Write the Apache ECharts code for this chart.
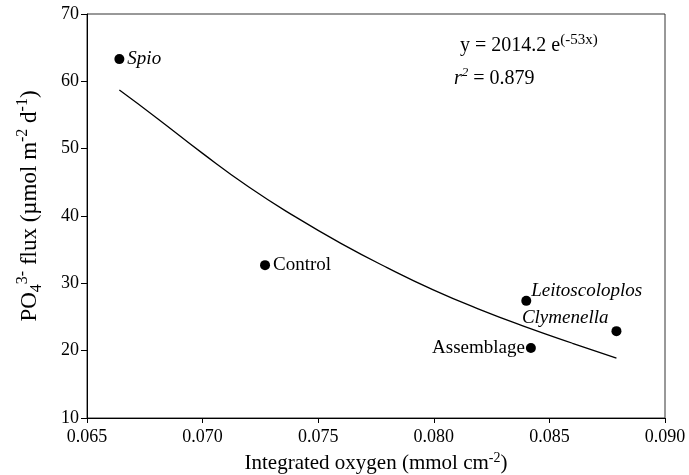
<!DOCTYPE html>
<html lang="en">
<head>
    <meta charset="UTF-8">
    <title>PO4 flux vs integrated oxygen</title>
    <script src="https://cdn.jsdelivr.net/npm/echarts@6/dist/echarts.min.js"></script>
    <style>
        html, body {margin: 0; padding: 0; background: #fff;}
        #main {width: 689px; height: 475px;}
    </style>
</head>
<body>
<div id="main"></div>
<script>
    // treatments (points)
    var names = ['Spio', 'Control', 'Leitoscoloplos', 'Clymenella', 'Assemblage'];
    var oxygen = [0.0664, 0.0727, 0.0840, 0.0879, 0.0842];
    var flux = [63.3, 32.7, 27.4, 22.9, 20.4];
    var italicNames = ['Spio', 'Leitoscoloplos', 'Clymenella'];

    // fitted curve
    var fitX = [0.0664, 0.068, 0.070, 0.072, 0.074, 0.076, 0.078, 0.080, 0.082, 0.084, 0.086, 0.0879];
    var fitY = [58.7, 54.6, 49.3, 44.3, 39.9, 35.9, 32.3, 29.0, 26.1, 23.5, 21.1, 18.9];

    var xTicks = [0.065, 0.090, 0.005];
    var yTicks = [10, 70, 10];

    var serif = '"Liberation Serif", "DejaVu Serif", serif';

    // label placement for each point
    var labelPlace = {
        'Spio': {position: 'right', offset: [0, 0]},
        'Control': {position: 'right', offset: [0, 0]},
        'Leitoscoloplos': {position: 'right', offset: [-3, -10]},
        'Clymenella': {position: 'left', offset: [0, -13]},
        'Assemblage': {position: 'left', offset: [2, 0]}
    };

    var pts = names.map(function (n, i) {
        var pl = labelPlace[n];
        return {
            name: n,
            value: [oxygen[i], flux[i]],
            label: {
                show: true,
                position: pl.position,
                offset: pl.offset,
                distance: 3,
                formatter: n,
                color: '#000',
                fontStyle: italicNames.indexOf(n) >= 0 ? 'italic' : 'normal'
            }
        };
    });

    var fit = fitX.map(function (x, i) { return [x, fitY[i]]; });

    var myChart = echarts.init(document.getElementById('main'));
    var option = {
        backgroundColor: '#fff',
        animation: false,
        grid: {
            left: 87, right: 24, top: 14, bottom: 57,
            outerBoundsMode: 'none',
            containLabel: false,
            show: true, borderColor: '#333', borderWidth: 1
        },
        xAxis: {
            type: 'value',
            min: xTicks[0], max: xTicks[1], interval: xTicks[2],
            splitLine: {show: false},
            axisLine: {lineStyle: {color: '#000'}},
            axisTick: {length: 5, lineStyle: {color: '#000'}},
            axisLabel: {
                color: '#000', fontFamily: serif, fontSize: 18, margin: 10,
                formatter: function (v) { return v.toFixed(3); }
            },
            name: 'Integrated oxygen (mmol cm{sup|-2})',
            nameLocation: 'middle',
            nameGap: 30,
            nameTextStyle: {
                color: '#000', fontFamily: serif, fontSize: 21, lineHeight: 26,
                rich: {
                    sup: {fontFamily: serif, fontSize: 14, verticalAlign: 'top', lineHeight: 26, color: '#000'}
                }
            }
        },
        yAxis: {
            type: 'value',
            min: yTicks[0], max: yTicks[1], interval: yTicks[2],
            splitLine: {show: false},
            axisLine: {lineStyle: {color: '#000'}},
            axisTick: {length: 6, lineStyle: {color: '#000'}},
            axisLabel: {color: '#000', fontFamily: serif, fontSize: 18, margin: 8},
            name: 'PO{sub|4}{sup|3-} flux (\u00b5mol m{sup|-2} d{sup|-1})',
            nameLocation: 'middle',
            nameGap: 42,
            nameTextStyle: {
                color: '#000', fontFamily: serif, fontSize: 23, lineHeight: 30,
                padding: [0, 0, 0, 20],
                rich: {
                    sup: {fontFamily: serif, fontSize: 16, verticalAlign: 'top', lineHeight: 30, color: '#000'},
                    sub: {fontFamily: serif, fontSize: 16, verticalAlign: 'bottom', lineHeight: 30, color: '#000'}
                }
            }
        },
        series: [
            {
                type: 'line',
                data: fit,
                smooth: true,
                showSymbol: false,
                symbol: 'none',
                lineStyle: {color: '#000', width: 1.3},
                z: 2
            },
            {
                type: 'scatter',
                data: pts,
                symbol: 'circle',
                symbolSize: 10,
                itemStyle: {color: '#000', opacity: 1},
                label: {color: '#000', fontFamily: serif, fontSize: 19},
                z: 3
            }
        ],
        graphic: [
            {
                type: 'text', left: 460, top: 33,
                style: {
                    text: 'y = 2014.2 e{sup|(-53x)}',
                    font: '20px ' + serif, fill: '#000', lineHeight: 26,
                    rich: {sup: {fontFamily: serif, fontSize: 15, verticalAlign: 'top', lineHeight: 26, fill: '#000'}}
                }
            },
            {
                type: 'text', left: 454, top: 66,
                style: {
                    text: '{it|r}{sup|2} = 0.879',
                    font: '20px ' + serif, fill: '#000', lineHeight: 26,
                    rich: {
                        it: {fontFamily: serif, fontSize: 20, fontStyle: 'italic', lineHeight: 26, fill: '#000'},
                        sup: {fontFamily: serif, fontSize: 13, fontStyle: 'italic', verticalAlign: 'top', lineHeight: 26, fill: '#000'}
                    }
                }
            }
        ]
    };
    myChart.setOption(option);
</script>
</body>
</html>
